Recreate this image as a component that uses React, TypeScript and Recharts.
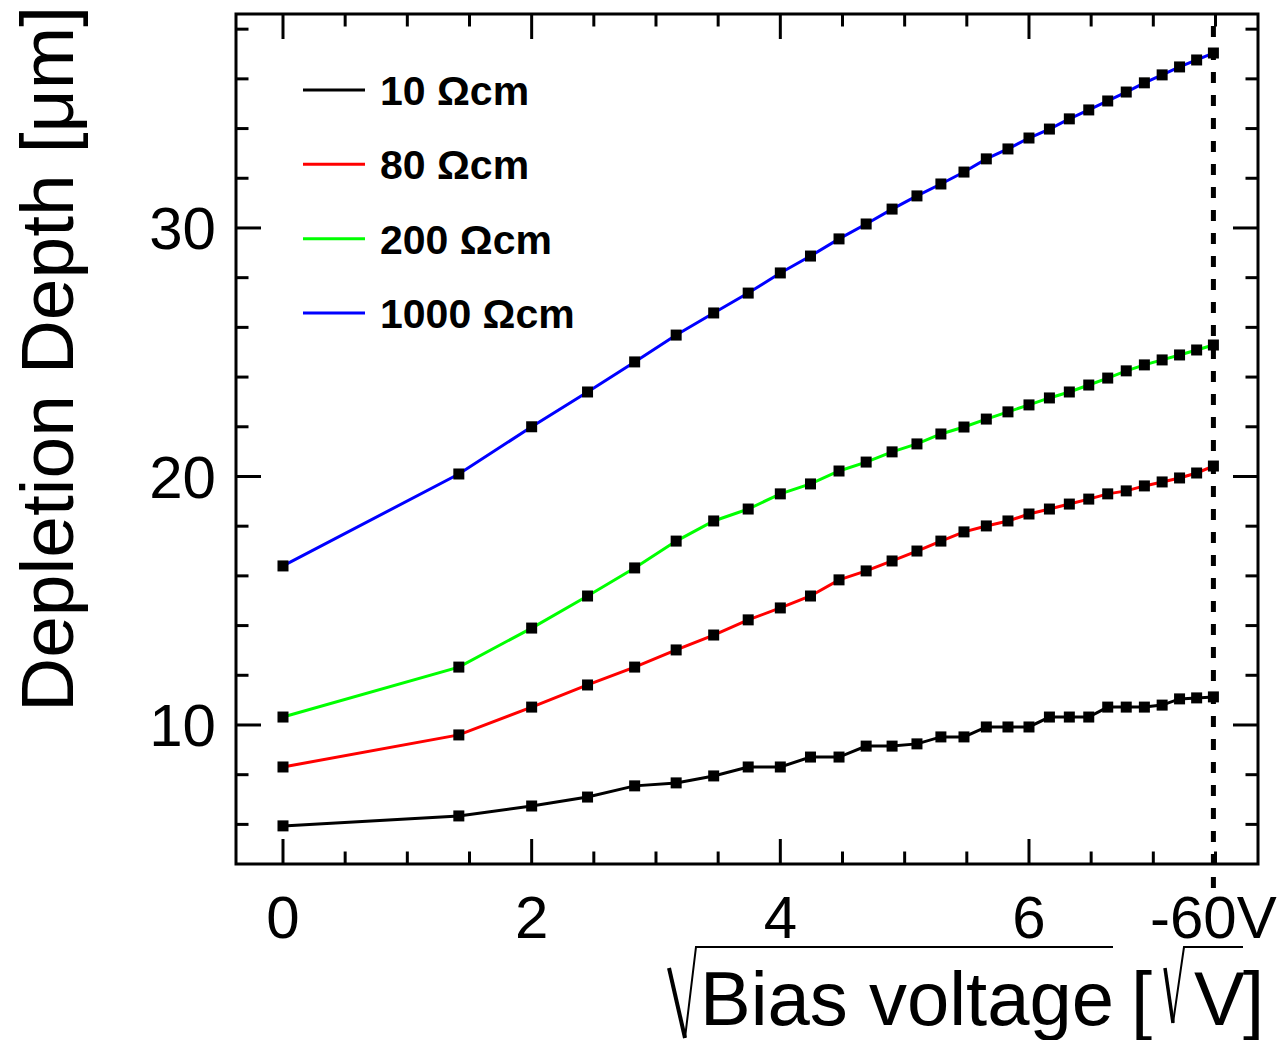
import React from 'react';
import { LineChart, Line, XAxis, YAxis, ReferenceLine, ReferenceArea, Legend } from 'recharts';

// ---- data ----
const VOLTAGES = [0, 2, 4, 6, 8, 10, 12, 14, 16, 18, 20, 22, 24, 26, 28, 30, 32, 34, 36, 38, 40, 42, 44, 46, 48, 50, 52, 54, 56];
const DEPTH_10 = [5.94, 6.34, 6.74, 7.1, 7.55, 7.67, 7.95, 8.31, 8.31, 8.71, 8.71, 9.15, 9.15, 9.24, 9.52, 9.52, 9.92, 9.92, 9.92, 10.32, 10.32, 10.32, 10.72, 10.72, 10.72, 10.8, 11.05, 11.09, 11.13];
const DEPTH_80 = [8.31, 9.6, 10.72, 11.61, 12.33, 13.02, 13.62, 14.23, 14.71, 15.19, 15.84, 16.2, 16.6, 17.0, 17.4, 17.77, 18.01, 18.21, 18.49, 18.69, 18.89, 19.09, 19.3, 19.42, 19.62, 19.78, 19.94, 20.14, 20.42];
const DEPTH_200 = [10.32, 12.33, 13.9, 15.19, 16.32, 17.4, 18.21, 18.69, 19.3, 19.7, 20.22, 20.58, 20.99, 21.31, 21.71, 21.99, 22.31, 22.6, 22.88, 23.16, 23.4, 23.68, 23.96, 24.25, 24.49, 24.69, 24.89, 25.09, 25.29];
const DEPTH_1000 = [16.4, 20.1, 22.0, 23.4, 24.61, 25.69, 26.58, 27.38, 28.19, 28.87, 29.56, 30.16, 30.76, 31.29, 31.77, 32.25, 32.78, 33.18, 33.62, 33.98, 34.39, 34.75, 35.11, 35.47, 35.84, 36.16, 36.48, 36.76, 37.04];

const SERIES = [
  { key: 'r10', name: '10 \u03A9cm', color: '#000000', values: DEPTH_10 },
  { key: 'r80', name: '80 \u03A9cm', color: '#ff0000', values: DEPTH_80 },
  { key: 'r200', name: '200 \u03A9cm', color: '#00ff00', values: DEPTH_200 },
  { key: 'r1000', name: '1000 \u03A9cm', color: '#0000ff', values: DEPTH_1000 },
];

const X_TICKS = [0, 0.5, 1, 1.5, 2, 2.5, 3, 3.5, 4, 4.5, 5, 5.5, 6, 6.5, 7, 7.5];
const X_MAJOR = [0, 2, 4, 6];
const Y_TICKS = [6, 8, 10, 12, 14, 16, 18, 20, 22, 24, 26, 28, 30, 32, 34, 36, 38];
const Y_MAJOR = [10, 20, 30];
const X_DOMAIN = [-0.378, 7.842];
const Y_DOMAIN = [4.406, 38.61];
const MARKER_VOLTAGE = 56;
const MARKER_LABEL = '-60V';
const DASH_BOTTOM = 3.44;

const data = VOLTAGES.map((v, i) => {
  const row: any = { x: Math.sqrt(v) };
  SERIES.forEach((s) => (row[s.key] = s.values[i]));
  return row;
});

// ---- layout ----
const W = 1280;
const H = 1040;
const PLOT = { left: 236, top: 14, right: 1258, bottom: 864 };
const FONT = '"Liberation Sans", Arial, Helvetica, sans-serif';

const XTick = (props: any) => {
  const { x, y, payload } = props;
  const v = payload.value;
  const major = X_MAJOR.includes(v);
  const len = major ? 25 : 12.5;
  return (
    <g>
      <line x1={x} x2={x} y1={y} y2={y - len} stroke="#000" strokeWidth={3} />
      <line x1={x} x2={x} y1={PLOT.top} y2={PLOT.top + len} stroke="#000" strokeWidth={3} />
      {major && (
        <text x={x} y={y + 74} textAnchor="middle" fontSize={60} fontFamily={FONT} fill="#000">
          {v}
        </text>
      )}
    </g>
  );
};

const YTick = (props: any) => {
  const { x, y, payload } = props;
  const v = payload.value;
  const major = Y_MAJOR.includes(v);
  const len = major ? 25 : 12.5;
  return (
    <g>
      <line x1={x} x2={x + len} y1={y} y2={y} stroke="#000" strokeWidth={3} />
      <line x1={PLOT.right} x2={PLOT.right - len} y1={y} y2={y} stroke="#000" strokeWidth={3} />
      {major && (
        <text x={x - 20} y={y + 21.5} textAnchor="end" fontSize={60} fontFamily={FONT} fill="#000">
          {v}
        </text>
      )}
    </g>
  );
};

const SquareDot = (props: any) => {
  const { cx, cy, index } = props;
  if (cx == null || cy == null) return <g key={index} />;
  return <rect key={index} x={cx - 5.5} y={cy - 5.5} width={11} height={11} fill="#000" />;
};

const XTitle = () => (
  <g fontFamily={FONT} fill="#000">
    <path d="M669 968 L685 1038" stroke="#000" strokeWidth={4} fill="none" />
    <path d="M685 1038 L696 947 L1113 947" stroke="#000" strokeWidth={2} fill="none" />
    <text x={700} y={1025} fontSize={76}>Bias voltage</text>
    <text x={1131} y={1025} fontSize={76}>[</text>
    <path d="M1165 968 L1173 1023" stroke="#000" strokeWidth={3.5} fill="none" />
    <path d="M1173 1023 L1184 947 L1243 947" stroke="#000" strokeWidth={2} fill="none" />
    <text x={1194} y={1025} fontSize={76}>V</text>
    <text x={1243} y={1025} fontSize={76}>]</text>
  </g>
);

const YTitle = () => (
  <text
    x={73}
    y={359}
    transform="rotate(-90 73 359)"
    textAnchor="middle"
    fontSize={75}
    fontFamily={FONT}
    fill="#000"
  >
    Depletion Depth [{'\u03BC'}m]
  </text>
);

const LegendContent = () => (
  <svg width={300} height={300} style={{ display: 'block', overflow: 'visible' }}>
    {SERIES.map((s, i) => {
      const cy = 40 + i * 74.33;
      return (
        <g key={s.key}>
          <line x1={3} x2={65} y1={cy} y2={cy} stroke={s.color} strokeWidth={3} />
          <text x={80} y={cy + 15} fontSize={41} fontWeight="bold" fontFamily={FONT} fill="#000">
            {s.name}
          </text>
        </g>
      );
    })}
  </svg>
);

export default function App() {
  return (
    <div style={{ position: 'absolute', left: 0, top: 0, background: '#fff' }}>
      <LineChart
        width={W}
        height={H}
        data={data}
        margin={{ top: PLOT.top, right: W - PLOT.right, bottom: H - PLOT.bottom - 1, left: PLOT.left - 1 }}
      >
        <XAxis
          dataKey="x"
          type="number"
          domain={X_DOMAIN}
          allowDataOverflow
          ticks={X_TICKS}
          interval={0}
          height={1}
          tickSize={0}
          tickMargin={0}
          axisLine={false}
          tickLine={false}
          tick={<XTick />}
          label={<XTitle />}
        />
        <YAxis
          type="number"
          domain={Y_DOMAIN}
          allowDataOverflow
          ticks={Y_TICKS}
          interval={0}
          width={1}
          tickSize={0}
          tickMargin={0}
          axisLine={false}
          tickLine={false}
          tick={<YTick />}
          label={<YTitle />}
        />
        <Legend
          layout="vertical"
          align="center"
          verticalAlign="middle"
          wrapperStyle={{ left: 300, top: 50, width: 300, height: 300 }}
          content={<LegendContent />}
        />
        {SERIES.map((s) => (
          <Line
            key={s.key}
            dataKey={s.key}
            name={s.name}
            type="linear"
            stroke={s.color}
            strokeWidth={3}
            dot={<SquareDot />}
            activeDot={false}
            isAnimationActive={false}
          />
        ))}
        <ReferenceLine
          segment={[
            { x: Math.sqrt(MARKER_VOLTAGE), y: DASH_BOTTOM },
            { x: Math.sqrt(MARKER_VOLTAGE), y: Y_DOMAIN[1] },
          ]}
          ifOverflow="visible"
          stroke="#000"
          strokeWidth={5}
          strokeDasharray="11 12"
          label={(p: any) => (
            <text
              x={p.viewBox ? p.viewBox.x : 0}
              y={938}
              textAnchor="middle"
              fontSize={60}
              fontFamily={FONT}
              fill="#000"
            >
              {MARKER_LABEL}
            </text>
          )}
        />
        <ReferenceArea
          x1={X_DOMAIN[0]}
          x2={X_DOMAIN[1]}
          y1={Y_DOMAIN[0]}
          y2={Y_DOMAIN[1]}
          ifOverflow="visible"
          fill="none"
          fillOpacity={0}
          stroke="#000"
          strokeWidth={3}
        />
      </LineChart>
    </div>
  );
}
